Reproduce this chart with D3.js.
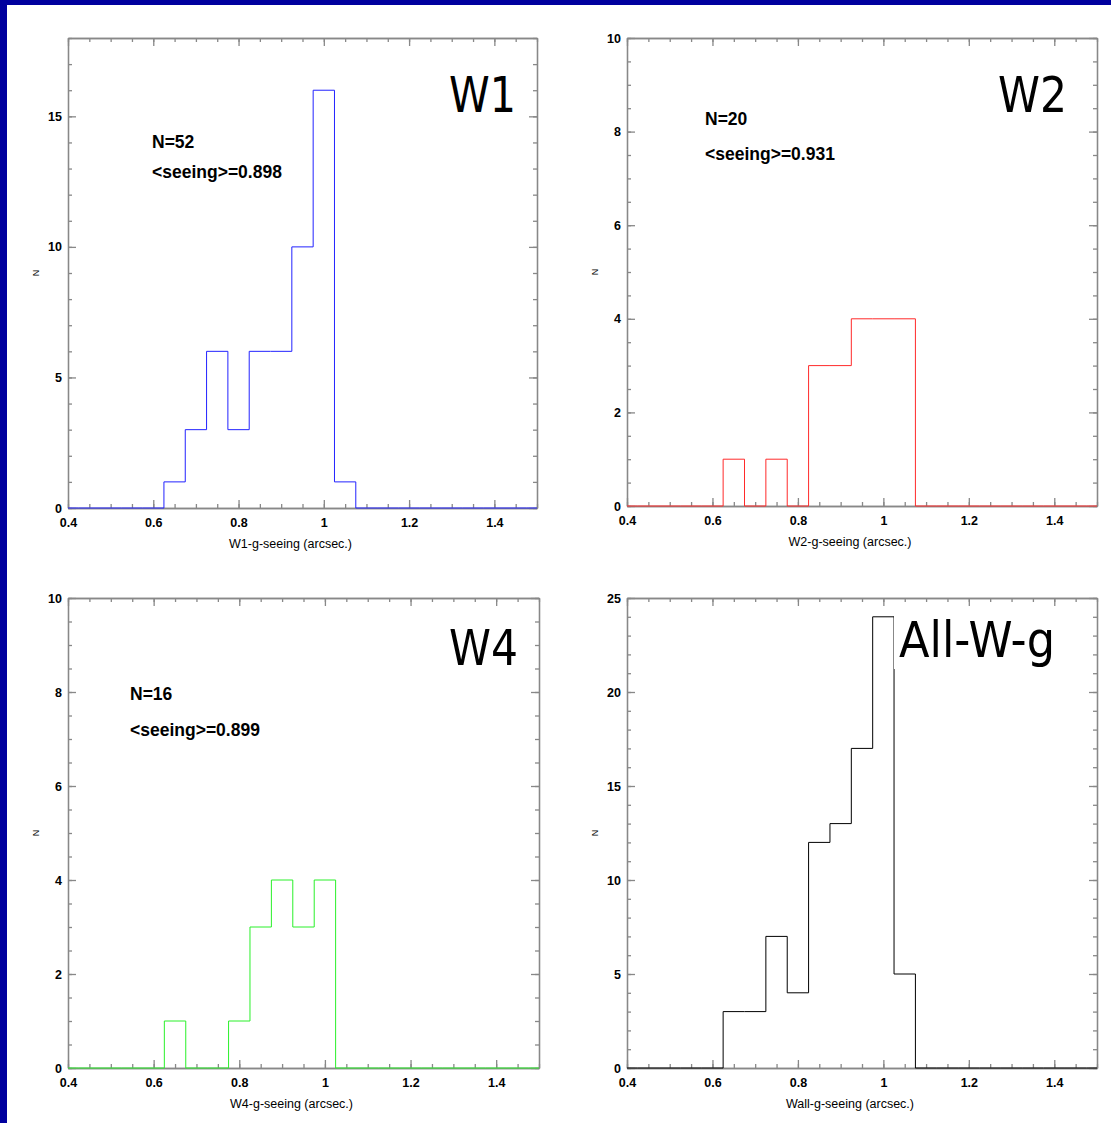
<!DOCTYPE html>
<html>
<head>
<meta charset="utf-8">
<script src="https://cdn.jsdelivr.net/npm/d3@7"></script>
<style>
  body { margin: 0; background: #fff; }
  text { font-family: "Liberation Sans", Arial, sans-serif; }
</style>
</head>
<body>
<svg id="chart" width="1111" height="1123"></svg>
<script>
// Bin centres (arcsec) shared by all four histograms
const binCenters = [0.40, 0.45, 0.50, 0.55, 0.60, 0.65, 0.70, 0.75, 0.80, 0.85, 0.90, 0.95,
                    1.00, 1.05, 1.10, 1.15, 1.20, 1.25, 1.30, 1.35, 1.40, 1.45, 1.50];

// Counts per bin
const w1Counts  = [0, 0, 0, 0, 0, 1, 3, 6, 3, 6, 6, 10, 16, 1, 0, 0, 0, 0, 0, 0, 0, 0, 0];
const w2Counts  = [0, 0, 0, 0, 0, 1, 0, 1, 0, 3, 3, 4, 4, 4, 0, 0, 0, 0, 0, 0, 0, 0, 0];
const w4Counts  = [0, 0, 0, 0, 0, 1, 0, 0, 1, 3, 4, 3, 4, 0, 0, 0, 0, 0, 0, 0, 0, 0, 0];
const allCounts = [0, 0, 0, 0, 0, 3, 3, 7, 4, 12, 13, 17, 24, 5, 0, 0, 0, 0, 0, 0, 0, 0, 0];

// Tick labels
const xTickValues = [0.4, 0.6, 0.8, 1.0, 1.2, 1.4];
const xTickLabels = ["0.4", "0.6", "0.8", "1", "1.2", "1.4"];
const yTicksW1  = [0, 5, 10, 15];
const yTicksW2  = [0, 2, 4, 6, 8, 10];
const yTicksW4  = [0, 2, 4, 6, 8, 10];
const yTicksAll = [0, 5, 10, 15, 20, 25];

// Texts
const panelNames  = ["W1", "W2", "W4", "All-W-g"];
const xTitles     = ["W1-g-seeing (arcsec.)", "W2-g-seeing (arcsec.)", "W4-g-seeing (arcsec.)", "Wall-g-seeing (arcsec.)"];
const nTexts      = ["N=52", "N=20", "N=16", null];
const seeingTexts = ["<seeing>=0.898", "<seeing>=0.931", "<seeing>=0.899", null];

const svg = d3.select("#chart");

// dark blue frame on top and left
svg.append("rect").attr("width", 1111).attr("height", 1123).attr("fill", "#00009e");
svg.append("rect").attr("x", 7).attr("y", 5).attr("width", 1104).attr("height", 1118).attr("fill", "#fff");

const axisColor = "#888";

const panels = [
  { left: 68,  top: 38,  right: 537,  bottom: 508,  ymax: 18, yTicks: yTicksW1,  yMinorStep: 1,   counts: w1Counts,  color: "#2222ff",
    nameX: 449, nameY: 112, nameW: 67, annX: 152, annY: 148, annGap: 30 },
  { left: 627, top: 38,  right: 1097, bottom: 506,  ymax: 10, yTicks: yTicksW2,  yMinorStep: 0.5, counts: w2Counts,  color: "#ff2a2a",
    nameX: 998, nameY: 112, nameW: 69, annX: 705, annY: 125, annGap: 35 },
  { left: 68,  top: 598, right: 539,  bottom: 1068, ymax: 10, yTicks: yTicksW4,  yMinorStep: 0.5, counts: w4Counts,  color: "#2af02a",
    nameX: 449, nameY: 665, nameW: 69, annX: 130, annY: 700, annGap: 36 },
  { left: 627, top: 598, right: 1097, bottom: 1068, ymax: 25, yTicks: yTicksAll, yMinorStep: 1,   counts: allCounts, color: "#000",
    nameX: 899, nameY: 657, nameW: 156, box: true }
];

panels.forEach(function(p, k) {
  const w = p.right - p.left, h = p.bottom - p.top;
  const g = svg.append("g").attr("transform", `translate(${p.left},${p.top})`);

  const x = d3.scaleLinear().domain([0.4, 1.5]).range([0, w]);
  const y = d3.scaleLinear().domain([0, p.ymax]).range([h, 0]);

  const xMinor = d3.range(0.4, 1.5001, 0.05);
  const yMinor = d3.range(0, p.ymax + 0.001, p.yMinorStep);

  // ticks on all four sides, pointing inward
  g.append("g").attr("transform", `translate(0,${h})`)
    .call(d3.axisBottom(x).tickValues(xMinor).tickSize(-4).tickSizeOuter(0).tickFormat(""));
  g.append("g").attr("class", "lab").attr("transform", `translate(0,${h})`)
    .call(d3.axisBottom(x).tickValues(xTickValues).tickSize(-8).tickSizeOuter(0).tickPadding(10)
      .tickFormat((d, i) => xTickLabels[i]));
  g.append("g")
    .call(d3.axisTop(x).tickValues(xMinor).tickSize(-4).tickSizeOuter(0).tickFormat(""));
  g.append("g")
    .call(d3.axisTop(x).tickValues(xTickValues).tickSize(-8).tickSizeOuter(0).tickFormat(""));

  g.append("g")
    .call(d3.axisLeft(y).tickValues(yMinor).tickSize(-4).tickSizeOuter(0).tickFormat(""));
  g.append("g").attr("class", "lab")
    .call(d3.axisLeft(y).tickValues(p.yTicks).tickSize(-8).tickSizeOuter(0).tickPadding(6));
  g.append("g").attr("transform", `translate(${w},0)`)
    .call(d3.axisRight(y).tickValues(yMinor).tickSize(-4).tickSizeOuter(0).tickFormat(""));
  g.append("g").attr("transform", `translate(${w},0)`)
    .call(d3.axisRight(y).tickValues(p.yTicks).tickSize(-8).tickSizeOuter(0).tickFormat(""));

  g.selectAll(".domain, .tick line").attr("stroke", axisColor).attr("stroke-width", 1.3);
  g.selectAll(".lab text")
    .attr("font-family", "Liberation Sans, Arial, sans-serif")
    .attr("font-size", 12.5).attr("font-weight", "bold").attr("fill", "#000");

  // histogram (step line centred on bins)
  const line = d3.line()
    .x((d, i) => x(binCenters[i]))
    .y(d => y(d))
    .curve(d3.curveStep);

  g.append("path")
    .datum(p.counts)
    .attr("d", line)
    .attr("fill", "none")
    .attr("stroke", p.color)
    .attr("stroke-width", 1);

  // axis titles
  g.append("text")
    .attr("x", w / 2 - 12).attr("y", h + 40)
    .attr("text-anchor", "middle")
    .attr("font-size", 12.5)
    .text(xTitles[k]);

  g.append("text")
    .attr("transform", `translate(-29,${h / 2}) rotate(-90)`)
    .attr("text-anchor", "middle")
    .attr("font-size", 9)
    .text("N");

  // annotations
  if (nTexts[k]) {
    svg.append("text").attr("x", p.annX).attr("y", p.annY)
      .attr("font-size", 17.5).attr("font-weight", "bold").text(nTexts[k]);
    svg.append("text").attr("x", p.annX).attr("y", p.annY + p.annGap)
      .attr("font-size", 17.5).attr("font-weight", "bold").text(seeingTexts[k]);
  }

  // big panel name
  if (p.box) {
    svg.append("rect").attr("x", 894).attr("y", 612).attr("width", 198).attr("height", 57).attr("fill", "#fff");
  }
  svg.append("text")
    .attr("x", p.nameX).attr("y", p.nameY)
    .style("font-family", "'DejaVu Sans Condensed', 'DejaVu Sans', sans-serif")
    .attr("font-size", 50)
    .attr("textLength", p.nameW)
    .attr("lengthAdjust", "spacingAndGlyphs")
    .attr("fill", "#000")
    .text(panelNames[k]);
});
</script>
</body>
</html>
